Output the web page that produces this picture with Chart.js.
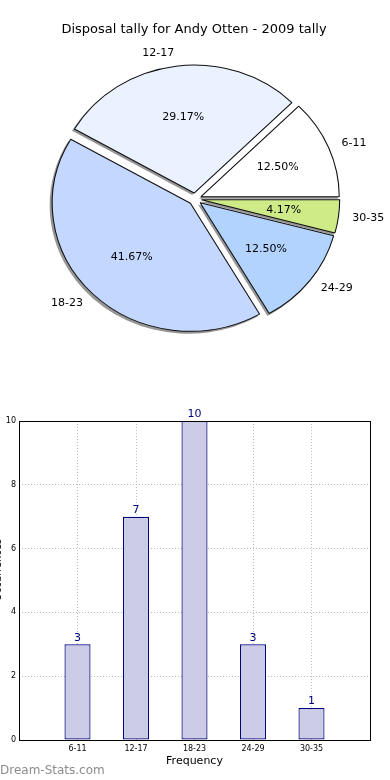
<!DOCTYPE html>
<html lang="en">
<head>
<meta charset="UTF-8">
<title>Disposal tally for Andy Otten - 2009 tally</title>
<script src="https://cdn.jsdelivr.net/npm/chart.js"></script>
<style>
  body { margin: 0; background: #fff; font-family: "DejaVu Sans", sans-serif; }
  #wrap { position: relative; width: 390px; height: 780px; overflow: hidden; }
  #pieChart { position: absolute; left: 0; top: 0; }
  #barChart { position: absolute; left: 0; top: 400px; }
</style>
</head>
<body>
<div id="wrap">
  <canvas id="pieChart" width="390" height="400"></canvas>
  <canvas id="barChart" width="390" height="380"></canvas>
</div>
<script>
// data
const categories = ['6-11', '12-17', '18-23', '24-29', '30-35'];
const tally = [3, 7, 10, 3, 1];
const sliceColors = ['#ffffff', '#eaf1ff', '#c4d7ff', '#b3d3ff', '#ceeb88'];
const yTicks = [0, 2, 4, 6, 8, 10];

const FONT = '"DejaVu Sans", sans-serif';
const total = tally.reduce((a, b) => a + b, 0);

// matplotlib draws the pie counter-clockwise from 3 o'clock,
// chart.js goes clockwise, so feed it reversed and start at 90deg
const pieLabels = categories.slice().reverse();
const pieValues = tally.slice().reverse();
const pieColors = sliceColors.slice().reverse();

const stretch = 1.08;   // the original pie is a bit wider than tall
const explode = 6;

function shiftOf(arc) {
    const mid = (arc.startAngle + arc.endAngle) / 2;
    return [Math.cos(mid) * explode, Math.sin(mid) * explode, mid];
}

const piePlugin = {
    id: 'piePlugin',
    beforeDatasetsDraw(chart) {
        const ctx = chart.ctx;
        const arcs = chart.getDatasetMeta(0).data;
        const cx = arcs[0].x, cy = arcs[0].y;
        ctx.save();
        ctx.translate(cx, cy);
        ctx.scale(stretch, 1);
        ctx.translate(-cx, -cy);
        // shadows first
        arcs.forEach(arc => {
            const [dx, dy] = shiftOf(arc);
            ctx.save();
            ctx.translate(dx - 2 / stretch, dy + 2);
            ctx.beginPath();
            ctx.moveTo(arc.x, arc.y);
            ctx.arc(arc.x, arc.y, arc.outerRadius + 0.5, arc.startAngle, arc.endAngle);
            ctx.closePath();
            ctx.fillStyle = '#969696';
            ctx.fill();
            ctx.restore();
        });
        arcs.forEach(arc => {
            const [dx, dy] = shiftOf(arc);
            ctx.save();
            ctx.translate(dx, dy);
            arc.draw(ctx);
            ctx.restore();
        });
        ctx.restore();
        return false;
    },
    afterDraw(chart) {
        const ctx = chart.ctx;
        const arcs = chart.getDatasetMeta(0).data;
        const cx = arcs[0].x, cy = arcs[0].y;
        ctx.save();
        ctx.fillStyle = '#000';
        ctx.font = '13px ' + FONT;
        ctx.textAlign = 'center';
        ctx.textBaseline = 'middle';
        ctx.fillText('Disposal tally for Andy Otten - 2009 tally', 194, 30);

        ctx.font = '11px ' + FONT;
        arcs.forEach((arc, i) => {
            const [dx, dy, mid] = shiftOf(arc);
            const r = arc.outerRadius;
            const lx = cx + (Math.cos(mid) * r * 1.1 + dx) * stretch;
            const ly = cy + Math.sin(mid) * r * 1.1 + dy;
            ctx.textAlign = Math.cos(mid) >= 0 ? 'left' : 'right';
            ctx.fillText(pieLabels[i], lx, ly);

            const px = cx + (Math.cos(mid) * r * 0.6 + dx) * stretch;
            const py = cy + Math.sin(mid) * r * 0.6 + dy;
            ctx.textAlign = 'center';
            ctx.fillText((pieValues[i] / total * 100).toFixed(2) + '%', px, py);
        });
        ctx.restore();
    }
};

new Chart(document.getElementById('pieChart'), {
    type: 'pie',
    data: {
        labels: pieLabels,
        datasets: [{
            data: pieValues,
            backgroundColor: pieColors,
            borderColor: '#111',
            borderWidth: 1,
            radius: 128,
            clip: false
        }]
    },
    options: {
        responsive: false,
        animation: false,
        events: [],
        rotation: 90,
        layout: { padding: { left: 60, right: 60, top: 64, bottom: 66 } },
        plugins: { legend: { display: false }, tooltip: { enabled: false } }
    },
    plugins: [piePlugin]
});

// bar chart: one empty slot on each side like the original
const barCats = [''].concat(categories, ['']);
const barVals = [null].concat(tally, [null]);

const barPlugin = {
    id: 'barPlugin',
    afterDatasetsDraw(chart) {
        const ctx = chart.ctx;
        const a = chart.chartArea;
        ctx.save();
        ctx.strokeStyle = '#000';
        ctx.lineWidth = 1;
        ctx.strokeRect(Math.round(a.left) + 0.5, Math.round(a.top) + 0.5,
            Math.round(a.right - a.left), Math.round(a.bottom - a.top));

        ctx.fillStyle = '#000080';
        ctx.font = '11px ' + FONT;
        ctx.textAlign = 'center';
        ctx.textBaseline = 'bottom';
        chart.getDatasetMeta(0).data.forEach((bar, i) => {
            if (barVals[i] == null) return;
            ctx.fillText(String(barVals[i]), bar.x, bar.y - 1);
        });

        // watermark
        ctx.fillStyle = '#8c8c8c';
        ctx.font = '12px ' + FONT;
        ctx.textAlign = 'left';
        ctx.textBaseline = 'middle';
        ctx.fillText('Dream-Stats.com', 0, 371);

        // y title, cut off at the left edge
        ctx.translate(-2, 170);
        ctx.rotate(-Math.PI / 2);
        ctx.fillStyle = '#000';
        ctx.font = '10px ' + FONT;
        ctx.textAlign = 'center';
        ctx.fillText('Occurrences', 0, 0);
        ctx.restore();
    }
};

new Chart(document.getElementById('barChart'), {
    type: 'bar',
    data: {
        labels: barCats,
        datasets: [{
            data: barVals,
            backgroundColor: '#ccccE6',
            borderColor: '#000080',
            borderWidth: 1.2,
            borderSkipped: false,
            barPercentage: 0.445,
            categoryPercentage: 1
        }]
    },
    options: {
        responsive: false,
        animation: false,
        events: [],
        layout: { padding: { top: 21, right: 20, left: 0, bottom: 0 } },
        plugins: { legend: { display: false }, tooltip: { enabled: false } },
        scales: {
            x: {
                offset: false,
                grid: {
                    offset: false,
                    color: c => (c.index === 0 || c.index === barCats.length - 1) ? 'transparent' : '#bbbbbb',
                    drawTicks: false
                },
                border: { display: false, dash: [1, 2] },
                ticks: { font: { size: 8, family: FONT }, color: '#000', padding: 4, maxRotation: 0, autoSkip: false },
                title: { display: true, text: 'Frequency', font: { size: 11, family: FONT }, color: '#000', padding: { top: 0, bottom: 12 } },
                afterFit: s => { s.height = 40; }
            },
            y: {
                min: 0,
                max: 10,
                afterBuildTicks: s => { s.ticks = yTicks.map(v => ({ value: v })); },
                ticks: { font: { size: 8, family: FONT }, color: '#000', padding: 3 },
                grid: {
                    color: c => (c.tick.value === 0 || c.tick.value === 10) ? 'transparent' : '#bbbbbb',
                    drawTicks: false
                },
                border: { display: false, dash: [1, 2] },
                afterFit: s => { s.width = 19; }
            }
        }
    },
    plugins: [barPlugin]
});
</script>
</body>
</html>
